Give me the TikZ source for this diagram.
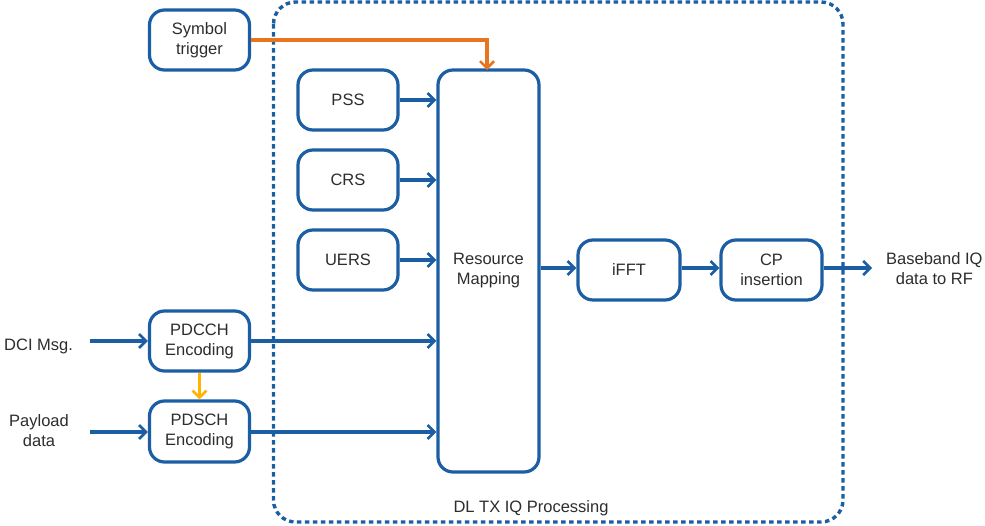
\documentclass[tikz,border=0pt]{standalone}
\usepackage{fontspec}
\setmainfont{Liberation Sans}
\usetikzlibrary{arrows.meta}
\definecolor{bl}{RGB}{28,94,164}
\definecolor{org}{RGB}{232,117,30}
\definecolor{yel}{RGB}{255,180,0}
\definecolor{txt}{RGB}{45,45,45}
\begin{document}
\begin{tikzpicture}[x=1pt,y=-1pt,
  blk/.style={draw=bl,line width=3.2pt,rounded corners=15pt,minimum width=100pt,minimum height=60pt,align=center,text=txt,font=\fontsize{16.5}{20}\selectfont,inner sep=0pt},
  lbl/.style={text=txt,font=\fontsize{16.5}{20}\selectfont,align=center,inner sep=0pt},
  arr/.style={draw=bl,line width=3.2pt,-{Straight Barb[length=7pt,width=14pt,line width=2.6pt]}},
  ln/.style={draw=bl,line width=3.2pt}]
\useasboundingbox (0,0) rectangle (985,525);
\fill[white] (0,0) rectangle (985,525);
\draw[bl,line width=3.4pt,dash pattern=on 4.5pt off 3.5pt,rounded corners=22pt] (273.5,2) rectangle (843,522);
\node[blk] (sym) at (199.5,40) {Symbol\\trigger};
\node[blk] (pss) at (348,100) {PSS};
\node[blk] (crs) at (348,180) {CRS};
\node[blk] (uers) at (348,260) {UERS};
\node[blk,minimum width=101pt,minimum height=402pt] (rm) at (488.5,271) {Resource\\Mapping};
\node[blk,minimum width=102pt] (ifft) at (629,270) {iFFT};
\node[blk,minimum width=101pt] (cp) at (771.5,270) {CP\\insertion};
\node[blk] (pdcch) at (199.5,341) {PDCCH\\Encoding};
\node[blk,minimum height=61pt] (pdsch) at (199.5,431.5) {PDSCH\\Encoding};
\node[lbl,anchor=west] (dci) at (4,346) {DCI Msg.};
\node[lbl] (pay) at (39,431) {Payload\\data};
\node[lbl,anchor=west] (bb) at (886,269) {Baseband IQ\\data to RF};
\node[lbl] (dl) at (531,508) {DL TX IQ Processing};
\coordinate (dcis) at (90,341);
\coordinate (pays) at (90,432);
\coordinate (bbe) at (872,268);
\draw[org,line width=3.2pt,-{Straight Barb[length=7pt,width=14pt,line width=2.6pt]}] (sym.east |- 0,40) -- (487,40) -- (487,70);
\draw[arr] (pss.east) -- (pss.east -| rm.west);
\draw[arr] (crs.east) -- (crs.east -| rm.west);
\draw[arr] (uers.east) -- (uers.east -| rm.west);
\draw[arr] (pdcch.east) -- (pdcch.east -| rm.west);
\draw[arr] (pdsch.east |- 0,432) -- (rm.west |- 0,432);
\draw[arr] (rm.east |- 0,268) -- (ifft.west |- 0,268);
\draw[arr] (ifft.east |- 0,268) -- (cp.west |- 0,268);
\draw[arr] (cp.east |- 0,268) -- (bbe);
\draw[arr] (dcis) -- (pdcch.west |- dcis);
\draw[arr] (pays) -- (pdsch.west |- pays);
\draw[yel,line width=3.2pt,-{Straight Barb[length=7pt,width=14pt,line width=2.6pt]}] (pdcch.south) -- (pdsch.north);
\end{tikzpicture}
\end{document}
